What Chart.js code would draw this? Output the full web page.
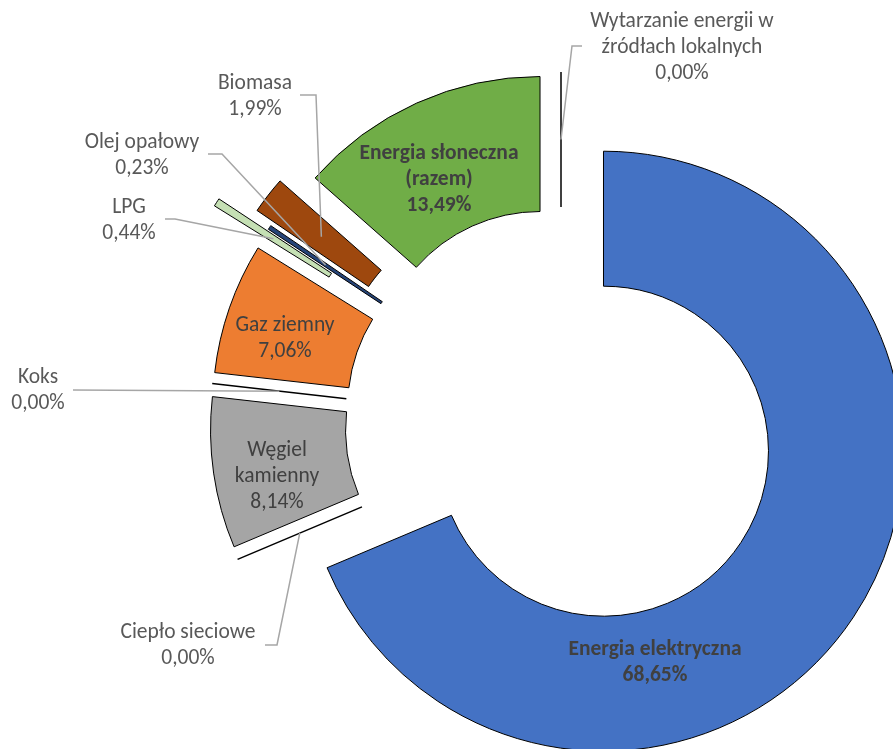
<!DOCTYPE html>
<html>
<head>
<meta charset="utf-8">
<script src="https://cdn.jsdelivr.net/npm/chart.js@4"></script>
<style>
  html, body { margin: 0; padding: 0; background: #fff; }
  #wrap { width: 893px; height: 749px; position: relative; }
</style>
</head>
<body>
<div id="wrap"><canvas id="energyChart"></canvas></div>
<script>
// categories (multi-line names are arrays, as Chart.js allows)
const categories = [
    'Energia elektryczna',
    'Ciepło sieciowe',
    ['Węgiel', 'kamienny'],
    'Koks',
    'Gaz ziemny',
    'LPG',
    'Olej opałowy',
    'Biomasa',
    ['Energia słoneczna', '(razem)'],
    ['Wytarzanie energii w', 'źródłach lokalnych']
];
// share of each source, %
const shares = [68.65, 0.00, 8.14, 0.00, 7.06, 0.44, 0.23, 1.99, 13.49, 0.00];

const sliceColors = ['#4472C4', '#5B9BD5', '#A5A5A5', '#FFC000', '#ED7D31',
    '#C5E0B4', '#264478', '#9E480E', '#70AD47', '#000000'];

// how far each slice is pulled out (px)
const explodeBy = [51, 51, 51, 51, 51, 109, 51, 71, 51, 51];
const FONT = 'Carlito, Lato, "Open Sans", sans-serif';
const FONT_SIZE = 21.5;
const LINE_H = 26;

// where each label goes (first line centre) and its leader line
// leader: fixed elbow points, then ends on the middle of the slice
const labelLayout = [
    { x: 655, y: 650, bold: true, color: '#404040' },
    { x: 188, y: 633, color: '#595959', leader: [[265, 645], [277, 645]] },
    { x: 277, y: 451, color: '#404040' },
    { x: 38, y: 378, color: '#595959', leader: [[73, 390]] },
    { x: 285, y: 326, color: '#404040' },
    { x: 129, y: 208, color: '#595959', leader: [[165, 219], [175, 219]] },
    { x: 142, y: 143, color: '#595959', leader: [[208, 154], [222, 154]] },
    { x: 255, y: 84, color: '#595959', leader: [[300, 95], [316, 95]] },
    { x: 439, y: 154, bold: true, color: '#404040' },
    { x: 682, y: 22, color: '#595959', leader: [[582, 46], [572, 46]] }
];

const fmtPct = v => v.toFixed(2).replace('.', ',') + '%';

// pull every slice out along its middle angle
const explodePlugin = {
    id: 'explode',
    afterDatasetsUpdate(chart) {
        chart.getDatasetMeta(0).data.forEach((arc, i) => {
            const mid = (arc.startAngle + arc.endAngle) / 2;
            arc.x += Math.cos(mid) * explodeBy[i];
            arc.y += Math.sin(mid) * explodeBy[i];
        });
    }
};

// zero-value slices show up as a single radial line, plus all labels
const labelPlugin = {
    id: 'sliceLabels',
    afterDatasetsDraw(chart) {
        const ctx = chart.ctx;
        const arcs = chart.getDatasetMeta(0).data;
        ctx.save();

        arcs.forEach(arc => {
            if (arc.circumference !== 0) return;
            const a = arc.startAngle;
            ctx.beginPath();
            ctx.moveTo(arc.x + Math.cos(a) * arc.innerRadius, arc.y + Math.sin(a) * arc.innerRadius);
            ctx.lineTo(arc.x + Math.cos(a) * arc.outerRadius, arc.y + Math.sin(a) * arc.outerRadius);
            ctx.strokeStyle = '#000';
            ctx.lineWidth = 1.5;
            ctx.stroke();
        });

        arcs.forEach((arc, i) => {
            const lay = labelLayout[i];
            if (!lay.leader) return;
            const mid = (arc.startAngle + arc.endAngle) / 2;
            const r = (arc.innerRadius + arc.outerRadius) / 2;
            ctx.beginPath();
            lay.leader.forEach((p, k) => k ? ctx.lineTo(p[0], p[1]) : ctx.moveTo(p[0], p[1]));
            ctx.lineTo(arc.x + Math.cos(mid) * r, arc.y + Math.sin(mid) * r);
            ctx.strokeStyle = '#A6A6A6';
            ctx.lineWidth = 1.5;
            ctx.stroke();
        });

        ctx.textAlign = 'center';
        ctx.textBaseline = 'middle';
        categories.forEach((name, i) => {
            const lay = labelLayout[i];
            const lines = [].concat(name, fmtPct(shares[i]));
            ctx.font = (lay.bold ? 'bold ' : '') + FONT_SIZE + 'px ' + FONT;
            ctx.fillStyle = lay.color;
            lines.forEach((s, k) => ctx.fillText(s, lay.x, lay.y + k * LINE_H));
        });
        ctx.restore();
    }
};

new Chart(document.getElementById('energyChart').getContext('2d'), {
    type: 'doughnut',
    data: {
        labels: categories,
        datasets: [{
            data: shares,
            backgroundColor: sliceColors,
            borderColor: '#000',
            borderWidth: 1,
            borderJoinStyle: 'miter'
        }]
    },
    options: {
        responsive: true,
        maintainAspectRatio: false,
        animation: false,
        events: [],
        radius: 300,
        cutout: '55%',
        layout: { padding: { left: 261, right: 32, top: 123, bottom: 26 } },
        plugins: {
            legend: { display: false },
            tooltip: { enabled: false }
        }
    },
    plugins: [explodePlugin, labelPlugin]
});
</script>
</body>
</html>
